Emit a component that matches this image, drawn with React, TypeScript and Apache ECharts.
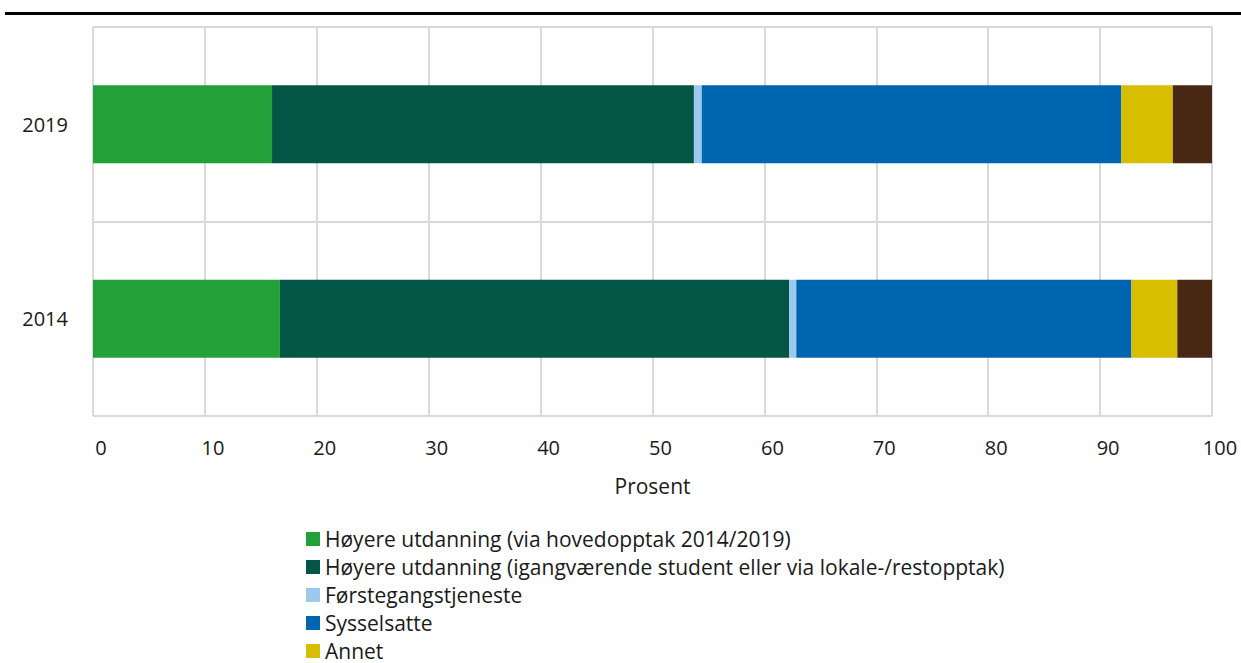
import React, { useEffect, useRef } from "react";
import * as echarts from "echarts";

const categories = ["2014", "2019"];
const seriesNames = [
  "Høyere utdanning (via hovedopptak 2014/2019)",
  "Høyere utdanning (igangværende student eller via lokale-/restopptak)",
  "Førstegangstjeneste",
  "Sysselsatte",
  "Annet",
  "Uoppgitt",
];
const legendNames = seriesNames.slice(0, 5);
const hovedopptak = [16.7, 16.0];
const igangvaerende = [45.5, 37.7];
const forstegang = [0.65, 0.7];
const sysselsatte = [29.95, 37.5];
const annet = [4.1, 4.6];
const uoppgitt = [3.1, 3.5];
const xTicks = { min: 0, max: 100, interval: 10 };
const colors = ["#22a139", "#035545", "#9cc9ec", "#0065b1", "#d7be00", "#482814"];

export default function App() {
  const ref = useRef<HTMLDivElement>(null);
  useEffect(() => {
    if (!ref.current) return;
    const chart = echarts.init(ref.current, null, { renderer: "svg" });
    const values = [hovedopptak, igangvaerende, forstegang, sysselsatte, annet, uoppgitt];
    const font = "'Open Sans', 'Noto Sans', sans-serif";
    chart.setOption({
      animation: false,
      textStyle: { fontFamily: font },
      grid: { left: 93, right: 29, top: 27, bottom: 247, containLabel: false },
      xAxis: {
        type: "value",
        min: xTicks.min,
        max: xTicks.max,
        interval: xTicks.interval,
        name: "Prosent",
        nameLocation: "middle",
        nameGap: 59,
        nameTextStyle: { fontSize: 21, color: "#1a1a1a", fontFamily: font },
        axisLine: { show: false },
        axisTick: { show: false },
        axisLabel: { fontSize: 20, color: "#1a1a1a", margin: 21, padding: [0, 0, 0, 16], fontFamily: font },
        splitLine: { show: true, lineStyle: { color: "#d9d9d9", width: 2 } },
      },
      yAxis: {
        type: "category",
        data: categories,
        axisLine: { show: false },
        axisTick: { show: false },
        axisLabel: { fontSize: 20, color: "#1a1a1a", margin: 25, fontFamily: font },
        splitLine: { show: true, lineStyle: { color: "#d9d9d9", width: 2 } },
      },
      legend: {
        orient: "vertical",
        left: 306,
        top: 528,
        height: 400,
        padding: 0,
        itemWidth: 14,
        itemHeight: 14,
        itemGap: 6,
        icon: "rect",
        data: legendNames,
        textStyle: { fontSize: 21, lineHeight: 22, color: "#1a1a1a", fontFamily: font },
      },
      graphic: [
        {
          type: "line",
          shape: { x1: 5, y1: 13.5, x2: 1241, y2: 13.5 },
          style: { stroke: "#000", lineWidth: 3 },
        },
      ],
      series: seriesNames.map((name, i) => ({
        name,
        type: "bar",
        stack: "total",
        barWidth: 78,
        data: values[i],
        itemStyle: { color: colors[i] },
      })),
    });
    return () => chart.dispose();
  }, []);
  return (
    <div
      ref={ref}
      style={{ position: "fixed", left: 0, top: 0, width: 1241, height: 663, background: "#fff" }}
    />
  );
}
